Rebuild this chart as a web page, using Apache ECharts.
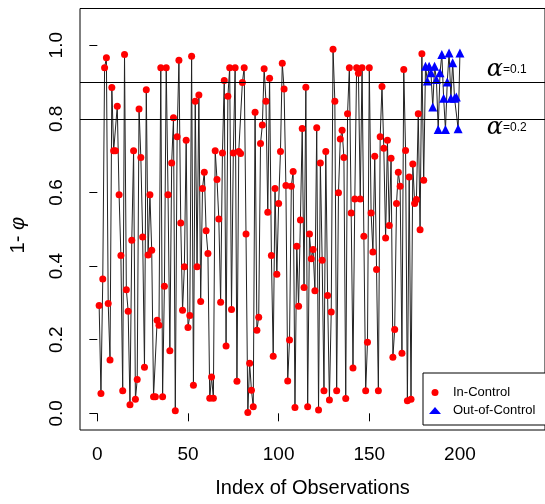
<!DOCTYPE html>
<html>
<head>
<meta charset="utf-8">
<script src="https://cdn.jsdelivr.net/npm/echarts@6/dist/echarts.min.js"></script>
<style>
html,body{margin:0;padding:0;background:#fff;}
#chart{width:545px;height:504px;}
</style>
</head>
<body>
<div id="chart"></div>
<script>
// ---- data ----
// observations 1..180: in-control
var inControl = [
0.293,0.054,0.365,0.939,0.966,0.298,0.145,0.885,0.713,0.713,
0.834,0.594,0.429,0.061,0.975,0.336,0.277,0.023,0.470,0.713,
0.038,0.092,0.827,0.695,0.479,0.125,0.879,0.430,0.594,0.443,
0.045,0.045,0.253,0.239,0.939,0.045,0.345,0.939,0.594,0.170,
0.680,0.803,0.007,0.751,0.959,0.517,0.280,0.398,0.742,0.233,
0.266,0.970,0.076,0.848,0.398,0.865,0.304,0.611,0.655,0.496,
0.434,0.041,0.099,0.041,0.713,0.635,0.528,0.302,0.707,0.904,
0.183,0.861,0.939,0.282,0.707,0.939,0.087,0.711,0.706,0.899,
0.939,0.487,0.002,0.136,0.063,0.018,0.818,0.226,0.261,0.733,
0.783,0.936,0.848,0.546,0.910,0.429,0.155,0.611,0.378,0.570,
0.711,0.951,0.881,0.619,0.088,0.199,0.617,0.657,0.016,0.454,
0.291,0.525,0.774,0.342,0.886,0.018,0.487,0.420,0.445,0.333,
0.776,0.009,0.680,0.416,0.061,0.711,0.320,0.036,0.275,0.989,
0.848,0.061,0.599,0.745,0.769,0.695,0.040,0.814,0.939,0.544,
0.123,0.582,0.939,0.924,0.582,0.939,0.481,0.061,0.193,0.939,
0.544,0.438,0.698,0.391,0.061,0.751,0.888,0.720,0.476,0.742,
0.510,0.693,0.152,0.228,0.570,0.655,0.617,0.163,0.934,0.714,
0.034,0.642,0.038,0.677,0.570,0.581,0.814,0.499,0.977,0.633
];
// observations 181..200: out-of-control
var outControl = [
0.943,0.903,0.943,0.925,0.832,0.943,0.907,0.771,0.925,0.975,
0.856,0.771,0.900,0.979,0.856,0.952,0.856,0.859,0.773,0.979
];
var xTicks = [0, 50, 100, 150, 200];
var yTicks = [0.0, 0.2, 0.4, 0.6, 0.8, 1.0];
var limitValues = [0.9, 0.8];
var limitLabels = ['0.1', '0.2'];
var seriesNames = ['In-Control', 'Out-of-Control'];

// ---- build ----
var allValues = inControl.concat(outControl);
var lineData = allValues.map(function (v, i) { return [i + 1, v]; });
var inData = inControl.map(function (v, i) { return [i + 1, v]; });
var outData = outControl.map(function (v, i) { return [inControl.length + i + 1, v]; });
// label anchors for the alpha annotations (data space)
var noteX = 214.8;
var noteY = [0.934, 0.776];
var noteData = limitLabels.map(function (t, k) { return { value: [noteX, noteY[k]], txt: t }; });

var FONT = 'Liberation Sans, Arial, Helvetica, sans-serif';
var chart = echarts.init(document.getElementById('chart'), null, { renderer: 'canvas' });
chart.setOption({
  animation: false,
  backgroundColor: '#fff',
  grid: {
    left: 79.5, top: 8.5, right: -1, bottom: 74,
    show: true, borderColor: '#000', borderWidth: 1, backgroundColor: 'transparent'
  },
  xAxis: {
    type: 'value', min: -9.56, max: 246.9,
    axisLine: { show: false },
    splitLine: { show: false },
    axisTick: { show: true, length: 8, lineStyle: { color: '#000', width: 1 }, customValues: xTicks },
    axisLabel: { show: true, customValues: xTicks, fontSize: 19, color: '#000', fontFamily: FONT, margin: 15 },
    name: 'Index of Observations', nameLocation: 'middle', nameGap: 48,
    nameTextStyle: { fontSize: 20, color: '#000', fontFamily: FONT }
  },
  yAxis: {
    type: 'value', min: -0.0453, max: 1.0997,
    axisLine: { show: false },
    splitLine: { show: false },
    axisTick: { show: true, length: 8, lineStyle: { color: '#000', width: 1 }, customValues: yTicks },
    axisLabel: {
      show: true, customValues: yTicks, rotate: 90, fontSize: 19, color: '#000', fontFamily: FONT, margin: 14,
      formatter: function (v) { return v.toFixed(1); }
    },
    name: '1- {i|φ}', nameLocation: 'middle', nameGap: 52,
    nameTextStyle: {
      fontSize: 20, color: '#000', fontFamily: FONT, padding: [0, 32, 0, 0],
      rich: { i: { fontSize: 20, fontStyle: 'italic', fontFamily: FONT, color: '#000' } }
    }
  },
  legend: {
    data: seriesNames,
    orient: 'vertical', left: 423, top: 373,
    padding: [13, 14, 8, 6], itemWidth: 12, itemHeight: 7, itemGap: 5,
    borderColor: '#000', borderWidth: 1, borderRadius: 0, backgroundColor: '#fff',
    textStyle: { fontSize: 13, color: '#000', fontFamily: FONT, padding: [0, 0, 0, 7] }
  },
  series: [
    {
      name: 'trace', type: 'line', data: lineData, showSymbol: false, symbol: 'none',
      lineStyle: { color: '#222', width: 1 }, z: 2, silent: true,
      markLine: {
        silent: true, symbol: 'none', animation: false,
        lineStyle: { color: '#000', width: 1, type: 'solid' },
        label: { show: false },
        data: limitValues.map(function (v) { return { yAxis: v }; })
      }
    },
    {
      name: seriesNames[0], type: 'scatter', data: inData, symbol: 'circle', symbolSize: 7,
      itemStyle: { color: '#FF0000', opacity: 1 }, z: 3
    },
    {
      name: seriesNames[1], type: 'scatter', data: outData, symbol: 'triangle', symbolSize: 9,
      itemStyle: { color: '#0000FF', opacity: 1 }, z: 4
    },
    {
      name: 'notes', type: 'scatter', data: noteData, symbolSize: 0, silent: true, z: 5,
      itemStyle: { opacity: 1 },
      label: {
        show: true, position: 'right', distance: 0,
        formatter: function (p) { return '{a|α}{b|=' + p.data.txt + '}'; },
        rich: {
          a: { fontSize: 24, fontStyle: 'italic', fontFamily: 'DejaVu Serif, serif', color: '#000' },
          b: { fontSize: 12, fontFamily: FONT, color: '#000' }
        }
      }
    }
  ]
});
</script>
</body>
</html>
